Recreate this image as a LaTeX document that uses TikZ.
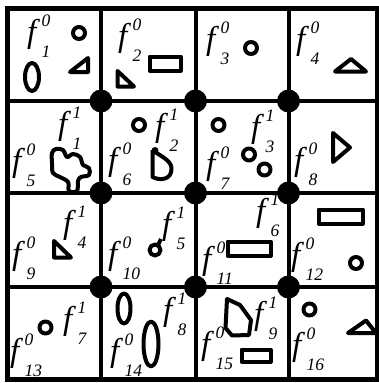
\documentclass[tikz,border=0pt]{standalone}
\usepackage{fontspec}
\setmainfont{Liberation Serif}
\newcommand\idxfont{\fontsize{17.5}{17.5}\selectfont}
\newcommand\flab[2]{\textit{f}\kern1.5pt\makebox[0pt][l]{\raisebox{16pt}{\idxfont\textit{#1}}}\raisebox{-15pt}{\idxfont\textit{#2}}}

\begin{document}
\begin{tikzpicture}[x=1pt, y=-1pt,
    flabel/.style={anchor=base west, inner sep=0pt, font=\fontsize{33}{33}\selectfont},
    figline/.style={line width=4pt, line join=round},
    gridline/.style={line width=4pt},
    joint/.style={circle, fill, minimum size=23pt, inner sep=0pt}
]
\useasboundingbox (0,0) rectangle (379,383);
% grid
\draw[gridline, line width=5pt] (7.5,8.5) rectangle (377,379);
\foreach \x in {101,195.5,288.5} \draw[gridline] (\x,8.5) -- (\x,379);
\foreach \y in {101,193,287} \draw[gridline] (7.5,\y) -- (377,\y);
\foreach \x/\i in {101/1,195.5/2,288.5/3}
  \foreach \y/\j in {101/1,193/2,287/3}
    \node[joint] (j\i\j) at (\x,\y) {};

% row 1
\node[flabel] (a1) at (27,42.5) {\flab{0}{1}};
\draw[figline] (32,77) ellipse [x radius=7pt, y radius=14pt];
\draw[figline] (79,33) circle [radius=6pt];
\draw[figline] (70,72) -- (88,58) -- (88,72) -- cycle;
\node[flabel] (a2) at (118,46.5) {\flab{0}{2}};
\draw[figline] (149.5,56.5) rectangle (180.5,70.5);
\draw[figline] (117.5,71) -- (117.5,86.5) -- (134,86.5) -- cycle;
\node[flabel] (a3) at (206,49) {\flab{0}{3}};
\draw[figline] (251,48) circle [radius=6pt];
\node[flabel] (a4) at (296,49) {\flab{0}{4}};
\draw[figline] (351,59) -- (335,71.5) -- (366,71.5) -- cycle;

% row 2
\node[flabel] (a5) at (12,171.5) {\flab{0}{5}};
\node[flabel] (b1) at (58,134) {\flab{1}{1}};
\draw[figline] plot[smooth cycle, tension=0.6] coordinates {(52,153) (56,149) (63,150) (67,157) (73,154) (80,157) (83,165) (89,168) (89,175) (81,177) (78,181) (77,191) (69,191) (68,182) (60,177) (53,173) (52,163)};
\node[flabel] (a6) at (108,170.5) {\flab{0}{6}};
\node[flabel] (b2) at (155,136) {\flab{1}{2}};
\draw[figline] (139,125) circle [radius=6pt];
\draw[figline] (152.5,150) -- (152.5,177) .. controls (160,181) and (172,180) .. (171.5,168) .. controls (171,160) and (160,156) .. (152.5,150);
\fill (155,150.5) circle [radius=3.5pt];
\node[flabel] (a7) at (206,174) {\flab{0}{7}};
\node[flabel] (b3) at (251,137) {\flab{1}{3}};
\draw[figline] (218.5,125) circle [radius=6pt];
\draw[figline] (249,154.5) circle [radius=6pt];
\draw[figline] (264.5,169.5) circle [radius=6pt];
\node[flabel] (a8) at (294,170) {\flab{0}{8}};
\draw[figline] (333,133) -- (333,162) -- (350,147.5) -- cycle;

% row 3
\node[flabel] (a9) at (12,264) {\flab{0}{9}};
\node[flabel] (b4) at (63,233.5) {\flab{1}{4}};
\draw[figline] (54,241) -- (54,257.5) -- (71,257.5) -- cycle;
\node[flabel] (a10) at (108,264.5) {\flab{0}{10}};
\node[flabel] (b5) at (162,234.5) {\flab{1}{5}};
\draw[figline] (155,250) circle [radius=5.5pt];
\draw[figline] (158,245) -- (161,239);
\node[flabel] (a11) at (202,269) {\flab{0}{11}};
\node[flabel] (b6) at (256,221.5) {\flab{1}{6}};
\draw[figline] (227.5,241.5) rectangle (270.5,255.5);
\node[flabel] (a12) at (291,265.5) {\flab{0}{12}};
\draw[figline] (318.5,209.5) rectangle (362.5,223.5);
\draw[figline] (356,263) circle [radius=6pt];

% row 4
\node[flabel] (a13) at (10,361.5) {\flab{0}{13}};
\node[flabel] (b7) at (63,329) {\flab{1}{7}};
\draw[figline] (45.5,327.5) circle [radius=6pt];
\node[flabel] (a14) at (110,361.5) {\flab{0}{14}};
\node[flabel] (b8) at (163,320) {\flab{1}{8}};
\draw[figline] (124,308.5) ellipse [x radius=6.5pt, y radius=15pt];
\draw[figline] (151,344) ellipse [x radius=7.5pt, y radius=22.5pt];
\node[flabel] (a15) at (201,354.5) {\flab{0}{15}};
\node[flabel] (b9) at (254,324) {\flab{1}{9}};
\draw[figline] (227,299) -- (240,305) -- (251,320) -- (249,335) -- (232,335.5) -- (225.5,328) -- cycle;
\draw[figline] (241.5,349.5) rectangle (270.5,361.5);
\node[flabel] (a16) at (292,355.5) {\flab{0}{16}};
\draw[figline] (309.5,309.5) circle [radius=6pt];
\draw[figline] (366,320.5) -- (348,333) -- (376,333) -- cycle;
\end{tikzpicture}
\end{document}
